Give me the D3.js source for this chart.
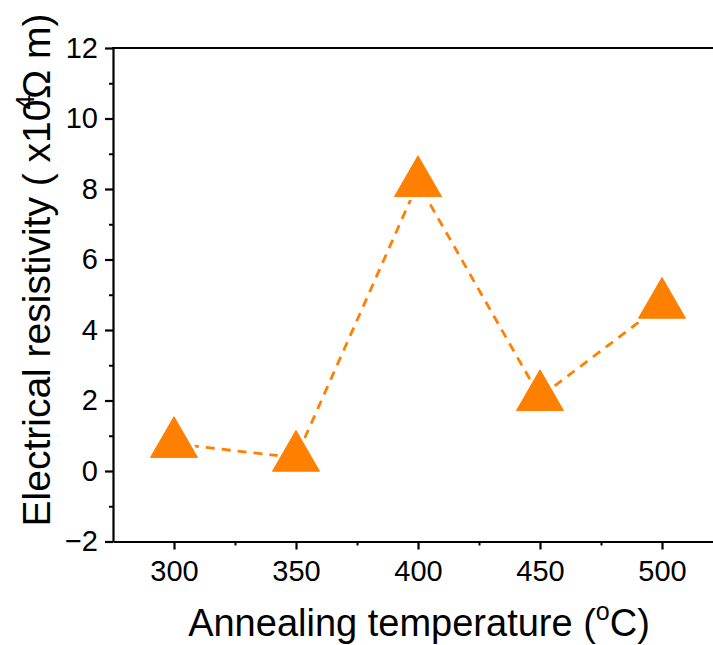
<!DOCTYPE html>
<html>
<head>
<meta charset="utf-8">
<script src="https://cdn.jsdelivr.net/npm/d3@7"></script>
<style>
  html, body { margin: 0; padding: 0; background: #fff; }
  svg { display: block; font-family: "Liberation Sans", Arial, sans-serif; }
</style>
</head>
<body>
<svg id="chart" width="713" height="645"></svg>
<script>
const temperatures = [300, 350, 400, 450, 500];
const resistivity = [0.77, 0.38, 8.17, 2.10, 4.72];
const xMajorTicks = [300, 350, 400, 450, 500];
const xMinorTicks = [325, 375, 425, 475, 525];
const yMajorTicks = [-2, 0, 2, 4, 6, 8, 10, 12];
const yMinorTicks = [-1, 1, 3, 5, 7, 9, 11];

(function () {
const svg = d3.select("#chart");
const pLeft = 113, pRight = 723, pTop = 48, pBottom = 541.5;
const orange = "#FF8000";

const x = d3.scaleLinear().domain([275, 525]).range([pLeft, pRight]);
const y = d3.scaleLinear().domain([-2, 12]).range([pBottom, pTop]);

// Minor ticks
svg.append("g").attr("transform", `translate(0,${pBottom})`)
  .call(d3.axisBottom(x).tickValues(xMinorTicks).tickSize(4).tickFormat(""))
  .call(g => g.select(".domain").remove())
  .call(g => g.selectAll("line").attr("stroke", "#000").attr("stroke-width", 2));
svg.append("g").attr("transform", `translate(${pLeft},0)`)
  .call(d3.axisLeft(y).tickValues(yMinorTicks).tickSize(4).tickFormat(""))
  .call(g => g.select(".domain").remove())
  .call(g => g.selectAll("line").attr("stroke", "#000").attr("stroke-width", 2));

// Major axes
const xAxis = svg.append("g").attr("transform", `translate(0,${pBottom})`)
  .call(d3.axisBottom(x).tickValues(xMajorTicks).tickSize(8).tickSizeOuter(0).tickPadding(11));
xAxis.select(".domain").attr("stroke", "#000").attr("stroke-width", 2.2);
xAxis.selectAll("line").attr("stroke", "#000").attr("stroke-width", 2.2);
xAxis.selectAll("text").attr("font-size", 29).attr("fill", "#000")
  .attr("font-family", "'Liberation Sans', Arial, sans-serif");

const yAxis = svg.append("g").attr("transform", `translate(${pLeft},0)`)
  .call(d3.axisLeft(y).tickValues(yMajorTicks).tickSize(8).tickSizeOuter(0).tickPadding(7));
yAxis.select(".domain").attr("stroke", "#000").attr("stroke-width", 2.2);
yAxis.selectAll("line").attr("stroke", "#000").attr("stroke-width", 2.2);
yAxis.selectAll("text").attr("font-size", 29).attr("fill", "#000")
  .attr("font-family", "'Liberation Sans', Arial, sans-serif");

// Top frame line
svg.append("line").attr("x1", pLeft - 1).attr("x2", pRight).attr("y1", pTop).attr("y2", pTop)
  .attr("stroke", "#000").attr("stroke-width", 2.2);

// Data
const data = temperatures.map((t, i) => ({ t, r: resistivity[i] }));

svg.append("path").datum(data)
  .attr("fill", "none").attr("stroke", orange).attr("stroke-width", 2.8)
  .attr("stroke-dasharray", "9,7")
  .attr("d", d3.line().x(d => x(d.t)).y(d => y(d.r)));

const tri = d3.symbol().type(d3.symbolTriangle);
svg.append("g").selectAll("path.halo").data(data).join("path")
  .attr("class", "halo")
  .attr("transform", d => `translate(${x(d.t)},${y(d.r)})`)
  .attr("d", tri.size(1500)()).attr("fill", "#fff");
svg.append("g").selectAll("path.pt").data(data).join("path")
  .attr("class", "pt")
  .attr("transform", d => `translate(${x(d.t)},${y(d.r)})`)
  .attr("d", tri.size(960)()).attr("fill", orange)
  .attr("stroke", orange).attr("stroke-width", 1).attr("stroke-linejoin", "round");

// Axis titles
const xt = svg.append("text").attr("x", 419).attr("y", 636)
  .attr("text-anchor", "middle").attr("font-size", 38).attr("fill", "#000");
xt.append("tspan").text("Annealing temperature (");
xt.append("tspan").text("o").attr("font-size", 25).attr("dy", -16);
xt.append("tspan").text("C)").attr("dy", 16);

const yt = svg.append("text").attr("transform", "translate(50,270) rotate(-90)")
  .attr("text-anchor", "middle").attr("font-size", 39).attr("fill", "#000");
yt.append("tspan").text("Electrical resistivity ( x10");
yt.append("tspan").text("4").attr("font-size", 26).attr("dy", -16).attr("dx", -10);
yt.append("tspan").text("Ω m)").attr("dy", 16).attr("dx", -4);
})();
</script>
</body>
</html>
